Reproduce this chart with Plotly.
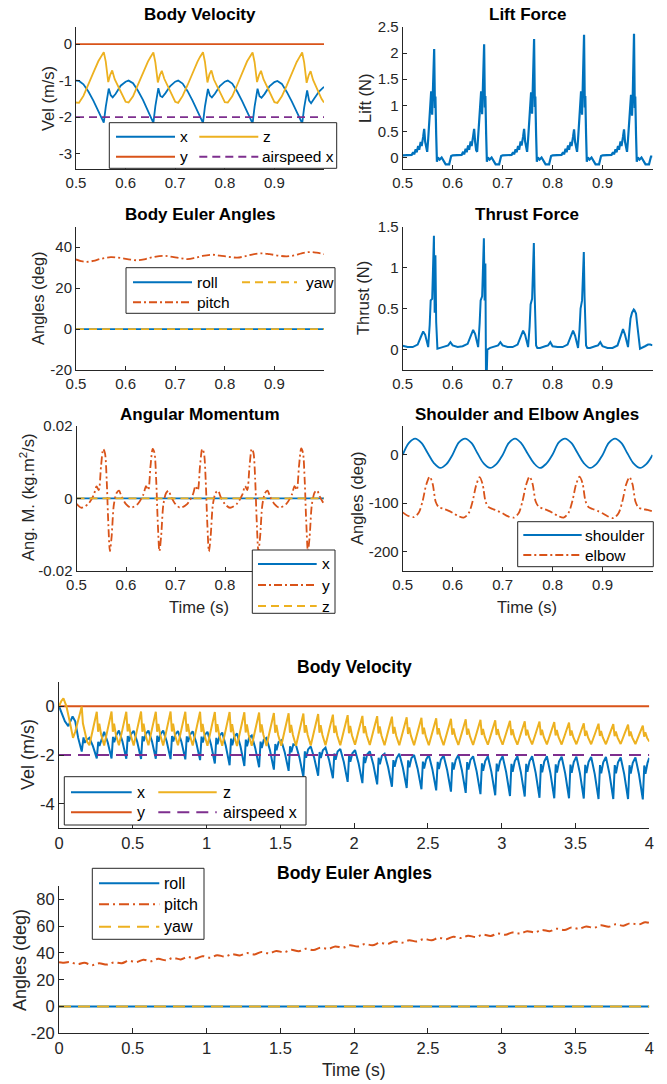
import plotly.graph_objects as go

W, H = 667, 1084
FONT = "Liberation Sans, Arial, Helvetica, sans-serif"
FONT_N = "Liberation Sans, Arial, Helvetica, sans-serif"
BLUE, ORANGE, YELLOW, PURPLE = "#0072BD", "#D95319", "#EDB120", "#7E2F8E"
AXC = "#262626"

# ============================ DATA ============================
# ---- Panel: Body Velocity (0.5-1.0 s), five wingbeats, period 0.1 s
VEL_X_OFFS = [0.0, 0.006, 0.015, 0.025, 0.035, 0.045, 0.052, 0.056, 0.06, 0.066, 0.07, 0.074, 0.08, 0.09]
VEL_X_CYCLES = [
    [-1.00, -1.01, -1.10, -1.30, -1.55, -1.84, -2.04, -2.15, -1.72, -1.22, -1.40, -1.46, -1.36, -1.14],
    [-1.03, -1.00, -1.07, -1.28, -1.53, -1.83, -2.05, -2.16, -1.70, -1.21, -1.42, -1.45, -1.35, -1.15],
    [-1.03, -1.00, -1.08, -1.29, -1.55, -1.85, -2.06, -2.16, -1.71, -1.23, -1.41, -1.46, -1.36, -1.15],
    [-1.03, -1.00, -1.08, -1.30, -1.56, -1.86, -2.06, -2.17, -1.72, -1.22, -1.43, -1.47, -1.37, -1.16],
    [-1.04, -1.01, -1.09, -1.31, -1.57, -1.87, -2.07, -2.17, -1.74, -1.27, -1.55, -1.62, -1.50, -1.30],
]
VEL_X_END = -1.17
VEL_Z_OFFS = [0.0, 0.006, 0.015, 0.025, 0.035, 0.045, 0.05, 0.056, 0.06, 0.065, 0.069, 0.073, 0.078, 0.085, 0.095]
VEL_Z_CYCLES = [
    [-1.60, -1.61, -1.42, -1.12, -0.78, -0.47, -0.35, -0.22, -0.48, -1.04, -0.84, -0.72, -0.96, -1.16, -1.46],
    [-1.58, -1.60, -1.43, -1.11, -0.77, -0.48, -0.36, -0.23, -0.50, -1.05, -0.85, -0.73, -0.95, -1.15, -1.45],
    [-1.58, -1.61, -1.42, -1.12, -0.79, -0.48, -0.35, -0.22, -0.49, -1.05, -0.83, -0.72, -0.97, -1.17, -1.47],
    [-1.59, -1.60, -1.43, -1.12, -0.78, -0.47, -0.36, -0.23, -0.49, -1.04, -0.85, -0.73, -0.96, -1.16, -1.46],
    [-1.59, -1.61, -1.43, -1.13, -0.79, -0.49, -0.37, -0.23, -0.50, -1.06, -0.86, -0.74, -0.98, -1.20, -1.50],
]
VEL_Z_END = -1.60
VEL_Y_T = [0.5, 1.0]
VEL_Y = [0.0, 0.0]
AIRSPEED_X = [-2.0, -2.0]

# ---- Panel: Lift Force (N)
LIFT_OFFS = [0.0, 0.01, 0.018, 0.021, 0.023, 0.026, 0.028, 0.031, 0.033, 0.036, 0.038, 0.041, 0.043, 0.045,
             0.047, 0.049, 0.051, 0.054, 0.057, 0.059, 0.0605, 0.063, 0.0645, 0.0655, 0.067, 0.0685, 0.0705,
             0.074, 0.078, 0.081, 0.084, 0.086, 0.093, 0.097]
LIFT_CYCLES = [
    [0.04, 0.04, 0.05, 0.10, 0.06, 0.16, 0.10, 0.22, 0.15, 0.30, 0.22, 0.40, 0.55, 0.30, 0.15, 0.11, 0.35,
     0.75, 1.27, 0.82, 1.25, 2.08, 0.95, 1.17, 0.45, -0.08, 0.00, -0.04, 0.00, -0.04, -0.08, -0.13, -0.13, 0.03],
    [0.04, 0.04, 0.05, 0.11, 0.06, 0.17, 0.10, 0.23, 0.15, 0.31, 0.22, 0.41, 0.55, 0.30, 0.14, 0.11, 0.36,
     0.76, 1.27, 0.83, 1.26, 2.17, 0.96, 1.18, 0.46, -0.08, 0.00, -0.04, 0.00, -0.04, -0.08, -0.13, -0.13, 0.03],
    [0.04, 0.04, 0.05, 0.10, 0.06, 0.16, 0.10, 0.22, 0.15, 0.31, 0.23, 0.40, 0.55, 0.31, 0.15, 0.11, 0.35,
     0.75, 1.25, 0.84, 1.26, 2.27, 0.97, 1.17, 0.45, -0.08, 0.00, -0.04, 0.00, -0.04, -0.08, -0.13, -0.13, 0.03],
    [0.04, 0.04, 0.05, 0.10, 0.06, 0.17, 0.10, 0.23, 0.15, 0.30, 0.22, 0.40, 0.54, 0.30, 0.15, 0.11, 0.35,
     0.76, 1.27, 0.82, 1.25, 2.35, 0.96, 1.18, 0.46, -0.08, 0.00, -0.04, 0.00, -0.04, -0.08, -0.13, -0.13, 0.03],
    [0.04, 0.04, 0.05, 0.10, 0.06, 0.16, 0.10, 0.22, 0.15, 0.31, 0.22, 0.40, 0.54, 0.30, 0.15, 0.11, 0.35,
     0.74, 1.20, 0.80, 1.20, 2.37, 0.95, 1.17, 0.45, -0.08, 0.00, -0.04, 0.00, -0.04, -0.08, -0.13, -0.13, 0.02],
]
LIFT_END = 0.02

# ---- Panel: Body Euler Angles (0.5-1.0 s)
PITCH_T = [0.5, 0.51, 0.52, 0.535, 0.55, 0.57, 0.59, 0.61, 0.625, 0.64, 0.655, 0.675, 0.69, 0.71, 0.725, 0.74,
           0.755, 0.775, 0.79, 0.81, 0.825, 0.84, 0.855, 0.875, 0.89, 0.91, 0.925, 0.94, 0.955, 0.97, 0.985, 1.0]
PITCH = [34.0, 33.2, 32.8, 33.3, 34.3, 35.1, 34.7, 33.9, 33.6, 34.2, 35.1, 35.8, 35.4, 34.6, 34.2, 34.8,
         35.7, 36.3, 35.9, 35.2, 34.9, 35.5, 36.4, 37.0, 36.6, 35.8, 35.5, 36.0, 37.0, 37.6, 37.3, 36.6]
ROLL = [0.0, 0.0]
YAW = [0.0, 0.0]

# ---- Panel: Thrust Force (N)
THRUST_OFFS = [0.0, 0.01, 0.02, 0.03, 0.036, 0.041, 0.045, 0.049, 0.051, 0.054, 0.056, 0.059, 0.0625, 0.064,
               0.0655, 0.067, 0.0695, 0.075, 0.085, 0.091, 0.0955]
THRUST_CYCLES = [
    [0.045, 0.03, 0.03, 0.06, 0.15, 0.22, 0.18, 0.06, 0.03, 0.30, 0.60, 0.62, 1.39, 0.45, 1.15, 0.34, 0.01, 0.02, 0.04, 0.05, 0.09],
    [0.05, 0.03, 0.04, 0.07, 0.17, 0.24, 0.19, 0.06, 0.03, 0.32, 0.60, 0.65, 1.36, 0.60, 1.05, -0.60, 0.00, 0.02, 0.04, 0.05, 0.09],
    [0.05, 0.03, 0.03, 0.06, 0.16, 0.23, 0.18, 0.05, 0.03, 0.28, 0.55, 0.62, 1.30, 0.70, 0.40, 0.05, 0.02, 0.02, 0.04, 0.05, 0.09],
    [0.04, 0.03, 0.03, 0.06, 0.16, 0.23, 0.17, 0.05, 0.02, 0.25, 0.50, 0.60, 1.19, 0.65, 0.35, 0.05, 0.02, 0.02, 0.04, 0.05, 0.09],
    [0.04, 0.02, 0.02, 0.05, 0.17, 0.25, 0.18, 0.05, 0.03, 0.25, 0.38, 0.45, 0.49, 0.48, 0.46, 0.44, 0.30, 0.01, 0.04, 0.06, 0.06],
]
THRUST_END = 0.05

# ---- Panel: Angular Momentum (kg m^2/s); cycles referenced to spike at 0.554 s
ANGM_SPIKE0 = 0.554
ANGM_OFFS = [-0.054, -0.044, -0.030, -0.019, -0.0135, -0.009, -0.0045, 0.0, 0.0035, 0.007, 0.010, 0.0135,
             0.017, 0.0215, 0.027, 0.032, 0.037]
ANGM_Y_CYCLES = [
    [-0.0015, -0.0026, -0.0015, 0.0010, 0.0033, 0.0023, 0.0088, 0.0136, 0.0125, 0.0050, -0.0060, -0.0146, -0.0105, -0.0017, 0.0015, 0.0021, 0.0005],
    [-0.0016, -0.0026, -0.0015, 0.0010, 0.0034, 0.0023, 0.0089, 0.0137, 0.0126, 0.0050, -0.0060, -0.0146, -0.0104, -0.0017, 0.0015, 0.0021, 0.0005],
    [-0.0016, -0.0026, -0.0015, 0.0010, 0.0034, 0.0022, 0.0089, 0.0137, 0.0125, 0.0050, -0.0061, -0.0147, -0.0105, -0.0017, 0.0015, 0.0021, 0.0005],
    [-0.0016, -0.0026, -0.0015, 0.0010, 0.0034, 0.0023, 0.0088, 0.0137, 0.0126, 0.0051, -0.0060, -0.0147, -0.0105, -0.0018, 0.0015, 0.0021, 0.0005],
    [-0.0016, -0.0026, -0.0015, 0.0010, 0.0034, 0.0023, 0.0089, 0.0138, 0.0126, 0.0050, -0.0061, -0.0147, -0.0106, -0.0017, 0.0016, 0.0022, 0.0006],
]
ANGM_Y_END = -0.0016
ANGM_X = [0.0, 0.0]
ANGM_Z = [0.0, 0.0]

# ---- Panel: Shoulder and Elbow Angles (deg)
SHOULDER_OFFS = [0.0, 0.0125, 0.025, 0.0375, 0.05, 0.0625, 0.075, 0.0875]
SHOULDER_CYCLES = [
    [0, 25, 34, 25, 4, -17, -27, -19],
    [1, 26, 34, 25, 3, -18, -27, -19],
    [0, 25, 34, 24, 3, -17, -27, -18],
    [1, 26, 34, 25, 4, -17, -27, -19],
    [0, 25, 34, 25, 3, -18, -27, -19],
]
SHOULDER_END = 0
ELBOW_OFFS = [0.0, 0.01, 0.022, 0.032, 0.04, 0.047, 0.054, 0.06, 0.066, 0.072, 0.08, 0.09]
ELBOW_CYCLES = [
    [-119, -126, -129, -120, -95, -62, -45, -60, -97, -108, -111, -115],
    [-120, -126, -130, -121, -96, -63, -46, -61, -97, -108, -112, -116],
    [-121, -127, -130, -121, -95, -62, -45, -60, -96, -107, -111, -115],
    [-120, -126, -130, -120, -94, -61, -45, -59, -96, -108, -112, -116],
    [-121, -127, -131, -121, -95, -62, -46, -61, -97, -109, -112, -114],
]
ELBOW_END = -117

# ---- Bottom: Body Velocity 0-4 s
BV_X_START_T = [0.0, 0.02, 0.04, 0.063, 0.08, 0.092, 0.11, 0.13, 0.154, 0.166, 0.174, 0.188]
BV_X_START = [0.0, -0.30, -0.62, -0.82, -0.60, -0.42, -0.62, -1.30, -1.86, -1.28, -1.50, -1.38]
BV_X_OFFS = [0.006, 0.03, 0.056, 0.066, 0.074, 0.088]
BV_X_CYCLES = [  # wingbeats from 0.2 s to 4.0 s
    [-1.30, -1.64, -2.14, -1.46, -1.63, -1.41], [-1.05, -1.48, -2.14, -1.26, -1.48, -1.19],
    [-1.00, -1.45, -2.15, -1.22, -1.45, -1.15], [-1.01, -1.46, -2.16, -1.23, -1.44, -1.14],
    [-1.00, -1.44, -2.15, -1.21, -1.46, -1.15], [-1.00, -1.45, -2.17, -1.22, -1.45, -1.16],
    [-1.02, -1.47, -2.18, -1.24, -1.47, -1.17], [-1.03, -1.49, -2.21, -1.25, -1.49, -1.18],
    [-1.05, -1.57, -2.35, -1.30, -1.56, -1.22], [-1.08, -1.62, -2.42, -1.33, -1.60, -1.25],
    [-1.12, -1.65, -2.45, -1.37, -1.64, -1.29], [-1.20, -1.72, -2.50, -1.45, -1.71, -1.37],
    [-1.30, -1.82, -2.60, -1.55, -1.81, -1.47], [-1.40, -1.90, -2.65, -1.64, -1.89, -1.56],
    [-1.60, -2.12, -2.90, -1.85, -2.11, -1.77], [-1.65, -2.13, -2.85, -1.88, -2.12, -1.81],
    [-1.70, -2.20, -2.95, -1.94, -2.19, -1.86], [-1.75, -2.29, -3.10, -2.01, -2.28, -1.93],
    [-1.80, -2.34, -3.15, -2.06, -2.33, -1.98], [-1.85, -2.39, -3.20, -2.11, -2.38, -2.03],
    [-1.95, -2.49, -3.30, -2.21, -2.48, -2.13], [-1.95, -2.51, -3.35, -2.22, -2.50, -2.13],
    [-2.00, -2.56, -3.40, -2.27, -2.55, -2.18], [-2.00, -2.58, -3.45, -2.28, -2.57, -2.19],
    [-2.02, -2.61, -3.50, -2.30, -2.60, -2.21], [-2.00, -2.62, -3.55, -2.29, -2.60, -2.20],
    [-2.05, -2.67, -3.60, -2.34, -2.65, -2.25], [-2.05, -2.69, -3.65, -2.35, -2.67, -2.26],
    [-2.05, -2.70, -3.68, -2.36, -2.69, -2.26], [-2.05, -2.71, -3.70, -2.36, -2.69, -2.26],
    [-2.05, -2.73, -3.75, -2.37, -2.71, -2.27], [-2.05, -2.74, -3.77, -2.38, -2.72, -2.27],
    [-2.07, -2.75, -3.77, -2.39, -2.73, -2.29], [-2.07, -2.75, -3.78, -2.40, -2.74, -2.29],
    [-2.08, -2.77, -3.80, -2.41, -2.75, -2.30], [-2.08, -2.77, -3.80, -2.41, -2.75, -2.30],
    [-2.10, -2.78, -3.80, -2.42, -2.76, -2.32], [-2.10, -2.79, -3.82, -2.43, -2.77, -2.32],
]
BV_X_END = -2.12
BV_Z_START_T = [0.0, 0.015, 0.03, 0.05, 0.075, 0.095, 0.11, 0.13, 0.145, 0.154, 0.162, 0.175, 0.19]
BV_Z_START = [0.0, 0.20, 0.32, 0.0, -0.70, -1.30, -1.05, -0.60, -0.25, -0.02, -0.70, -1.05, -1.45]
BV_Z_OFFS = [0.006, 0.03, 0.056, 0.065, 0.073, 0.085]
BV_Z_CYCLES = [
    [-1.60, -0.94, -0.23, -1.05, -0.72, -1.15], [-1.61, -0.94, -0.22, -1.05, -0.72, -1.15],
    [-1.60, -0.95, -0.23, -1.04, -0.73, -1.16], [-1.61, -0.94, -0.22, -1.05, -0.72, -1.15],
    [-1.60, -0.94, -0.23, -1.05, -0.73, -1.15], [-1.61, -0.95, -0.22, -1.04, -0.72, -1.16],
    [-1.60, -0.94, -0.23, -1.05, -0.73, -1.15], [-1.61, -0.95, -0.23, -1.06, -0.73, -1.16],
    [-1.62, -0.96, -0.24, -1.07, -0.74, -1.16], [-1.62, -0.96, -0.24, -1.07, -0.74, -1.16],
    [-1.63, -0.97, -0.25, -1.08, -0.75, -1.17], [-1.62, -0.97, -0.26, -1.08, -0.75, -1.17],
    [-1.63, -0.98, -0.28, -1.09, -0.77, -1.18], [-1.62, -0.98, -0.29, -1.09, -0.77, -1.18],
    [-1.62, -0.99, -0.30, -1.09, -0.78, -1.18], [-1.61, -0.99, -0.32, -1.09, -0.78, -1.18],
    [-1.60, -1.00, -0.35, -1.10, -0.80, -1.19], [-1.60, -1.01, -0.37, -1.11, -0.81, -1.19],
    [-1.58, -1.01, -0.40, -1.11, -0.82, -1.19], [-1.59, -1.02, -0.41, -1.12, -0.83, -1.20],
    [-1.60, -1.04, -0.43, -1.13, -0.85, -1.21], [-1.60, -1.05, -0.46, -1.14, -0.87, -1.22],
    [-1.60, -1.06, -0.48, -1.15, -0.88, -1.23], [-1.60, -1.07, -0.50, -1.16, -0.90, -1.24],
    [-1.60, -1.08, -0.52, -1.17, -0.91, -1.24], [-1.59, -1.09, -0.54, -1.17, -0.92, -1.24],
    [-1.59, -1.10, -0.56, -1.18, -0.93, -1.25], [-1.58, -1.10, -0.58, -1.18, -0.94, -1.25],
    [-1.58, -1.11, -0.60, -1.19, -0.95, -1.26], [-1.58, -1.12, -0.62, -1.20, -0.97, -1.26],
    [-1.57, -1.12, -0.63, -1.19, -0.97, -1.26], [-1.57, -1.13, -0.65, -1.20, -0.98, -1.27],
    [-1.57, -1.14, -0.67, -1.21, -1.00, -1.27], [-1.56, -1.15, -0.70, -1.22, -1.01, -1.28],
    [-1.56, -1.16, -0.72, -1.22, -1.02, -1.28], [-1.56, -1.17, -0.74, -1.23, -1.04, -1.29],
    [-1.55, -1.17, -0.76, -1.23, -1.04, -1.29], [-1.55, -1.19, -0.80, -1.25, -1.07, -1.30],
]
BV_Z_END = -1.45
BV_Y_T = [0.0, 4.0]
BV_Y = [0.0, 0.0]
BV_AIRSPEED_X = [-2.0, -2.0]

# ---- Bottom: Body Euler Angles 0-4 s (pitch trough/crest per wingbeat)
BE_PITCH_START = 33.0
BE_PITCH_OFFS = [0.025, 0.072]
BE_PITCH_CYCLES = [
    [32.6, 33.2], [31.6, 32.6], [30.9, 32.3], [31.3, 32.9], [32.35, 34.15], [33.15, 34.95], [33.8, 35.6],
    [34.5, 36.3], [35.2, 37.0], [35.8, 37.6], [36.5, 38.3], [37.3, 39.1], [38.1, 39.9], [38.9, 40.7],
    [39.7, 41.5], [40.5, 42.3], [41.3, 43.1], [42.15, 43.95], [43.05, 44.85], [43.95, 45.75], [44.85, 46.65],
    [45.75, 47.55], [46.7, 48.5], [47.65, 49.45], [48.6, 50.4], [49.5, 51.3], [50.3, 52.1], [51.1, 52.9],
    [51.9, 53.7], [52.7, 54.5], [53.55, 55.35], [54.45, 56.25], [55.35, 57.15], [56.25, 58.05],
    [57.15, 58.95], [58.0, 59.8], [58.8, 60.6], [59.6, 61.4], [60.4, 62.2], [61.2, 63.0],
]
BE_PITCH_END = 62.5
BE_ROLL = [0.0, 0.0]
BE_YAW = [0.0, 0.0]

PERIOD = 0.1


def expand(t0, offs, rows, end_t=None, end_v=None, head_t=(), head_v=()):
    ts, vs = list(head_t), list(head_v)
    for k, row in enumerate(rows):
        for o, v in zip(offs, row):
            ts.append(round(t0 + PERIOD * k + o, 5))
            vs.append(v)
    if end_t is not None:
        ts.append(end_t)
        vs.append(end_v)
    return ts, vs


vx_t, vx = expand(0.5, VEL_X_OFFS, VEL_X_CYCLES, 1.0, VEL_X_END)
vz_t, vz = expand(0.5, VEL_Z_OFFS, VEL_Z_CYCLES, 1.0, VEL_Z_END)
lift_t, lift = expand(0.5, LIFT_OFFS, LIFT_CYCLES, 1.0, LIFT_END)
thr_t, thr = expand(0.5, THRUST_OFFS, THRUST_CYCLES, 1.0, THRUST_END)
am_t, am_y = expand(ANGM_SPIKE0, ANGM_OFFS, ANGM_Y_CYCLES, 1.0, ANGM_Y_END)
sh_t, sh = expand(0.5, SHOULDER_OFFS, SHOULDER_CYCLES, 1.0, SHOULDER_END)
el_t, el = expand(0.5, ELBOW_OFFS, ELBOW_CYCLES, 1.0, ELBOW_END)
bx_t, bx = expand(0.2, BV_X_OFFS, BV_X_CYCLES, 4.0, BV_X_END, BV_X_START_T, BV_X_START)
bz_t, bz = expand(0.2, BV_Z_OFFS, BV_Z_CYCLES, 4.0, BV_Z_END, BV_Z_START_T, BV_Z_START)
bp_t, bp = expand(0.0, BE_PITCH_OFFS, BE_PITCH_CYCLES, 4.0, BE_PITCH_END, [0.0], [BE_PITCH_START])

# ============================ FIGURE ============================
DASH = "8px,5px"
DASHDOT = "8px,3px,2px,3px"
DASH_B = "12px,7px"
DASHDOT_B = "10px,4px,2px,4px"

fig = go.Figure()


def add(xs, ys, n, color, width=1.8, dash=None, shape="linear", smoothing=None):
    line = dict(color=color, width=width, shape=shape)
    if dash:
        line["dash"] = dash
    if smoothing is not None:
        line["smoothing"] = smoothing
    sfx = "" if n == 1 else str(n)
    fig.add_trace(go.Scatter(x=xs, y=ys, mode="lines", xaxis="x" + sfx, yaxis="y" + sfx,
                             line=line, showlegend=False, hoverinfo="skip"))


# Panel 1
add(vx_t, vx, 1, BLUE)
add(VEL_Y_T, VEL_Y, 1, ORANGE)
add(vz_t, vz, 1, YELLOW)
add(VEL_Y_T, AIRSPEED_X, 1, PURPLE, dash=DASH)
# Panel 2
add(lift_t, lift, 2, BLUE, width=2.2)
# Panel 3
add(VEL_Y_T, ROLL, 3, BLUE)
add(PITCH_T, PITCH, 3, ORANGE, dash=DASHDOT, shape="spline")
add(VEL_Y_T, YAW, 3, YELLOW, dash=DASH)
# Panel 4
add(thr_t, thr, 4, BLUE, width=2.0)
# Panel 5
add(VEL_Y_T, ANGM_X, 5, BLUE)
add(am_t, am_y, 5, ORANGE, dash=DASHDOT, shape="spline", smoothing=0.8)
add(VEL_Y_T, ANGM_Z, 5, YELLOW, dash=DASH)
# Panel 6
add(sh_t, sh, 6, BLUE, shape="spline")
add(el_t, el, 6, ORANGE, dash=DASHDOT, shape="spline", smoothing=0.8)
# Panel 7
add(bx_t, bx, 7, BLUE, width=2.0)
add(BV_Y_T, BV_Y, 7, ORANGE, width=2.0)
add(bz_t, bz, 7, YELLOW, width=2.0)
add(BV_Y_T, BV_AIRSPEED_X, 7, PURPLE, width=2.0, dash=DASH_B)
# Panel 8
add(BV_Y_T, BE_ROLL, 8, BLUE, width=2.0)
add(bp_t, bp, 8, ORANGE, width=2.0, dash=DASHDOT_B, shape="spline")
add(BV_Y_T, BE_YAW, 8, YELLOW, width=2.0, dash=DASH_B)

# axes geometry in pixels: (x0, x1), (ytop, ybottom)
GEOM = {
    1: ((76, 324), (27, 168.5)),
    2: ((402.7, 652.5), (27, 168.5)),
    3: ((76, 324), (226.7, 370)),
    4: ((402.7, 652.5), (226.7, 370)),
    5: ((76.5, 324), (426, 570.7)),
    6: ((402.7, 652.5), (426, 570.7)),
    7: ((59, 649.3), (681.7, 828.3)),
    8: ((59, 649.3), (886, 1033.3)),
}
TOP_X = [0.5, 0.6, 0.7, 0.8, 0.9]
BOT_X = [0, 0.5, 1, 1.5, 2, 2.5, 3, 3.5, 4]
SPEC = {
    1: ([0.5, 1.0], TOP_X, [-3.41, 0.47], [-3, -2, -1, 0]),
    2: ([0.5, 1.0], TOP_X, [-0.21, 2.5], [0, 0.5, 1, 1.5, 2, 2.5]),
    3: ([0.5, 1.0], TOP_X, [-20, 50], [-20, 0, 20, 40]),
    4: ([0.5, 1.0], TOP_X, [-0.25, 1.5], [0, 0.5, 1, 1.5]),
    5: ([0.5, 1.0], TOP_X, [-0.02, 0.02], [-0.02, 0, 0.02]),
    6: ([0.5, 1.0], TOP_X, [-240, 60], [-200, -100, 0]),
    7: ([0, 4], BOT_X, [-5, 1], [-4, -2, 0]),
    8: ([0, 4], BOT_X, [-20, 90], [-20, 0, 20, 40, 60, 80]),
}


def lab(v):
    return "{:g}".format(v)


layout = dict(width=W, height=H, margin=dict(l=0, r=0, t=0, b=0), template="none",
              paper_bgcolor="white", plot_bgcolor="white", showlegend=False)
for n in range(1, 9):
    (x0, x1), (yt, yb) = GEOM[n]
    xr, xt, yr, ytk = SPEC[n]
    bottom = n >= 7
    tf = dict(family=FONT_N if bottom else FONT, size=16.5 if bottom else 15, color=AXC)
    tl = 5 if bottom else 4
    sfx = "" if n == 1 else str(n)
    common = dict(showline=True, linecolor=AXC, linewidth=1, ticks="inside", ticklen=tl, tickwidth=1,
                  tickcolor=AXC, showgrid=False, zeroline=False, automargin=False, tickfont=tf,
                  fixedrange=True, mirror=False)
    layout["xaxis" + sfx] = dict(common, domain=[x0 / W, x1 / W], range=xr, anchor="y" + sfx,
                                 tickvals=xt, ticktext=[lab(v) for v in xt])
    layout["yaxis" + sfx] = dict(common, domain=[1 - yb / H, 1 - yt / H], range=yr, anchor="x" + sfx,
                                 tickvals=ytk, ticktext=[lab(v) for v in ytk])

annotations = []
shapes = []


def text(s, px, py, size, family=FONT, color=AXC, angle=0, xanchor="center", bold=False):
    annotations.append(dict(text=("<b>%s</b>" % s) if bold else s, x=px / W, y=1 - py / H,
                            xref="paper", yref="paper", xanchor=xanchor, yanchor="middle",
                            showarrow=False, textangle=angle,
                            font=dict(family=family, size=size, color=color)))


# titles
for s, cx, cy in [("Body Velocity", 200, 15), ("Lift Force", 527, 15), ("Body Euler Angles", 200, 214),
                  ("Thrust Force", 527, 214), ("Angular Momentum", 200, 414),
                  ("Shoulder and Elbow Angles", 527, 414)]:
    text(s, cx, cy, 17, color="black", bold=True)
text("Body Velocity", 354, 667, 17.5, family=FONT_N, color="black", bold=True)
text("Body Euler Angles", 354, 873, 17.5, family=FONT_N, color="black", bold=True)

# axis labels
for s, cx, cy in [("Vel (m/s)", 48, 98), ("Lift (N)", 365, 98), ("Angles (deg)", 38, 298),
                  ("Thrust (N)", 363, 298), ("Ang. M. (kg.m<sup>2</sup>/s)", 27, 498),
                  ("Angles (deg)", 357, 498)]:
    text(s, cx, cy, 16.5, angle=-90)
text("Time (s)", 199, 607, 16.5)
text("Time (s)", 527, 607, 16.5)
text("Vel (m/s)", 28, 755, 18, family=FONT_N, angle=-90)
text("Angles (deg)", 20, 960, 18, family=FONT_N, angle=-90)
text("Time (s)", 354, 1070, 17.5, family=FONT_N)


def legend(box, entries, size, family, lw=2):
    x0, y0, x1, y1 = box
    shapes.append(dict(type="rect", xref="paper", yref="paper", x0=x0 / W, x1=x1 / W,
                       y0=1 - y1 / H, y1=1 - y0 / H, fillcolor="white",
                       line=dict(color=AXC, width=1), layer="above"))
    for lx0, lx1, ly, color, dash, label, tx in entries:
        ln = dict(color=color, width=lw)
        if dash:
            ln["dash"] = dash
        shapes.append(dict(type="line", xref="paper", yref="paper", x0=lx0 / W, x1=lx1 / W,
                           y0=1 - ly / H, y1=1 - ly / H, line=ln, layer="above"))
        text(label, tx, ly, size, family=family, color="black", xanchor="left")


legend((109.3, 122.7, 336.7, 168.3),
       [(116, 175, 136.7, BLUE, None, "x", 178), (199.3, 258.3, 136.7, YELLOW, None, "z", 261),
        (116, 175, 156.7, ORANGE, None, "y", 178), (199.3, 258.3, 156.7, PURPLE, DASH, "airspeed x", 260)],
       15.5, FONT)
legend((126, 267.7, 335, 313.3),
       [(133, 192, 282.3, BLUE, None, "roll", 195), (242, 297, 282.3, YELLOW, DASH, "yaw", 304),
        (133, 192, 302.3, ORANGE, DASHDOT, "pitch", 195)],
       15.5, FONT)
legend((252.3, 550, 335, 613.3),
       [(258, 316.7, 564, BLUE, None, "x", 320), (258, 316.7, 585, ORANGE, DASHDOT, "y", 320),
        (258, 316.7, 606, YELLOW, DASH, "z", 320)],
       15.5, FONT)
legend((517.7, 521.7, 653.3, 566.7),
       [(523.3, 581.7, 535, BLUE, None, "shoulder", 583), (523.3, 581.7, 555, ORANGE, DASHDOT, "elbow", 583)],
       15.5, FONT)
legend((64.3, 776.7, 306, 825),
       [(71, 131.7, 792.3, BLUE, None, "x", 135), (158.3, 216.7, 792.3, YELLOW, None, "z", 221),
        (71, 131.7, 812.3, ORANGE, None, "y", 135), (158.3, 216.7, 812.3, PURPLE, DASH_B, "airspeed x", 221)],
       16, FONT_N)
legend((92.3, 868.3, 204, 939.3),
       [(99, 159.3, 883.3, BLUE, None, "roll", 162), (99, 159.3, 904.3, ORANGE, DASHDOT_B, "pitch", 162),
        (99, 159.3, 926.7, YELLOW, DASH_B, "yaw", 162)],
       16, FONT_N)

layout["annotations"] = annotations
layout["shapes"] = shapes
fig.update_layout(**layout)

fig.write_html("out.html", config={"displayModeBar": False, "staticPlot": True},
               post_script="document.body.style.margin='0px';")
